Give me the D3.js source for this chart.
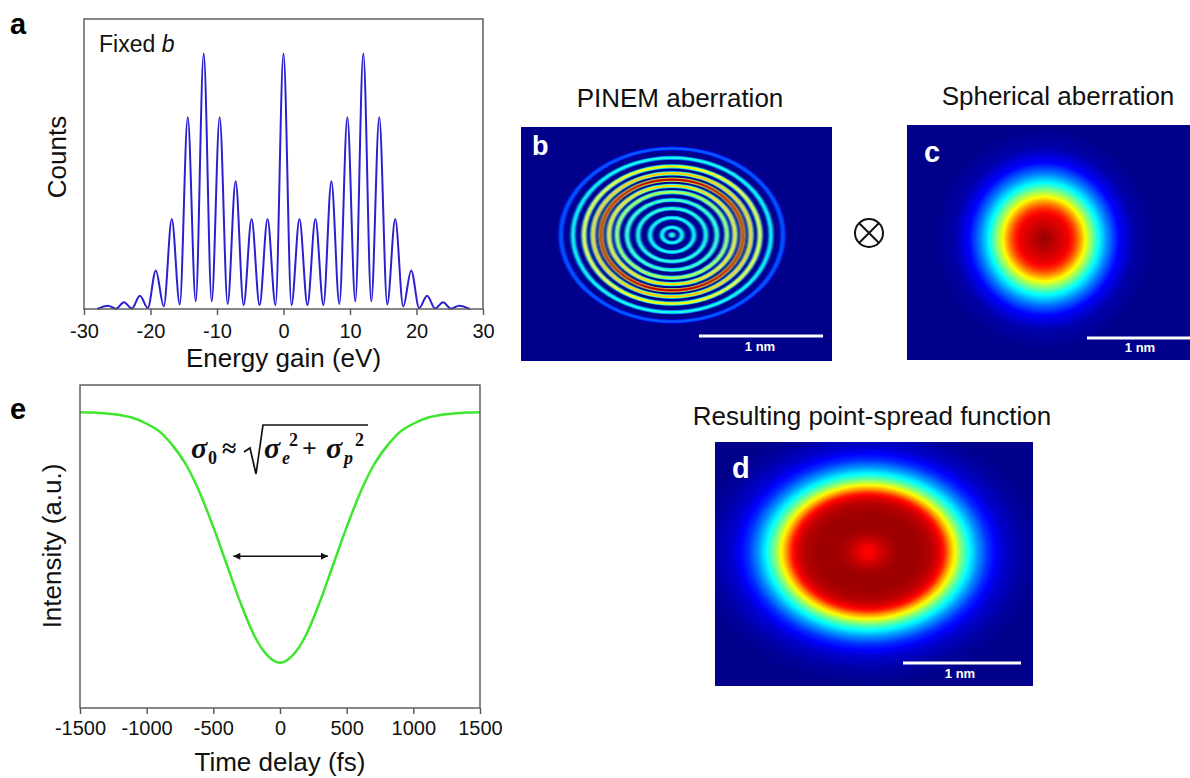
<!DOCTYPE html>
<html><head><meta charset="utf-8">
<script src="https://cdn.jsdelivr.net/npm/d3@7"></script>
<style>
body{margin:0;background:#fff}
svg{display:block}
</style>
</head><body>
<svg id="fig" width="1190" height="778"></svg>
<script>
// ---------- DATA ----------
// Panel a: PINEM spectrum (peak maxima and minima)
const energyGain = [-28,-26.4,-25.2,-24,-22.8,-21.6,-20.4,-19.2,-18,-16.8,-15.6,-14.4,-13.2,-12,-10.8,-9.6,-8.4,-7.2,-6,-4.8,-3.6,-2.4,-1.2,0,
                    1.2,2.4,3.6,4.8,6,7.2,8.4,9.6,10.8,12,13.2,14.4,15.6,16.8,18,19.2,20.4,21.6,22.8,24,25.2,26.4,28];
const counts = [0,0.013,0.001,0.026,0.002,0.052,0.004,0.151,0.01,0.352,0.018,0.75,0.03,1.0,0.03,0.75,0.02,0.5,0.015,0.352,0.015,0.352,0.015,1.0,
                0.015,0.352,0.015,0.352,0.015,0.5,0.02,0.75,0.03,1.0,0.03,0.75,0.018,0.352,0.01,0.151,0.004,0.052,0.002,0.026,0.001,0.013,0];
const energyTicks = [-30,-20,-10,0,10,20,30];

// Panel e: time trace
const timeDelay = [-1500,-1400,-1300,-1200,-1100,-1000,-900,-800,-700,-600,-500,-400,-300,-200,-100,0,
                   100,200,300,400,500,600,700,800,900,1000,1100,1200,1300,1400,1500];
const intensity = [0.916,0.915,0.912,0.907,0.898,0.88,0.855,0.81,0.75,0.665,0.56,0.445,0.33,0.23,0.165,0.14,
                   0.165,0.23,0.33,0.445,0.56,0.665,0.75,0.81,0.855,0.88,0.898,0.907,0.912,0.915,0.916];
const timeTicks = [-1500,-1000,-500,0,500,1000,1500];
const fwhmSpan = [-350, 360];
const fwhmLevel = 0.47;

// Panel b: PINEM rings (horizontal radius in px, jet level)
const ringRadius = [0, 10, 22, 34, 45, 55, 63, 71, 79, 88, 99, 111];
const ringLevel  = [0.45, 0.4, 0.4, 0.42, 0.45, 0.55, 0.66, 0.95, 0.68, 0.62, 0.4, 0.22];

// Panel c: spherical aberration profile (radius px, jet level)
const sphRadius = [0, 8, 16, 24, 30, 36, 42, 48, 55, 64, 75, 90, 110];
const sphLevel  = [0.98, 0.95, 0.92, 0.89, 0.83, 0.73, 0.61, 0.5, 0.375, 0.25, 0.125, 0.04, 0.01];

// Panel d: resulting PSF profile (radius px, jet level)
const psfRadius = [0, 8, 18, 30, 50, 62, 70, 76, 82, 88, 95, 102, 110, 120, 135, 155, 175];
const psfLevel  = [0.87, 0.89, 0.94, 0.97, 0.97, 0.95, 0.91, 0.85, 0.72, 0.6, 0.47, 0.37, 0.27, 0.17, 0.08, 0.03, 0.01];

// ---------- HELPERS ----------
const SANS = "'Liberation Sans', Arial, sans-serif";
const SERIF = "'Liberation Serif', 'Times New Roman', serif";
const svg = d3.select("#fig").style("font-family", SANS);
const defs = svg.append("defs");
const jet = d3.scaleLinear()
  .domain([0, 0.125, 0.375, 0.625, 0.875, 1])
  .range(["#000080", "#0000ff", "#00ffff", "#ffff00", "#ff0000", "#800000"])
  .clamp(true);
const bg = jet(0.01);
const frameColor = "#555";

function frame(x0, y0, x1, y1) {
  svg.append("rect").attr("x", x0).attr("y", y0).attr("width", x1 - x0).attr("height", y1 - y0)
    .attr("fill", "none").attr("stroke", frameColor).attr("stroke-width", 1.4);
}
function label(x, y, s, size, opts = {}) {
  const t = svg.append("text").attr("x", x).attr("y", y).style("font-size", size + "px")
    .style("font-family", SANS).attr("fill", opts.fill || "#111");
  if (opts.anchor) t.attr("text-anchor", opts.anchor);
  if (opts.bold) t.style("font-weight", "bold");
  if (opts.transform) t.attr("transform", opts.transform);
  t.text(s);
  return t;
}

// ---------- PANEL a ----------
const ax = d3.scaleLinear().domain([-30, 30]).range([84, 483]);
const ay = d3.scaleLinear().domain([0, 1.135]).range([309, 19]);
svg.append("path")
  .datum(energyGain.map((e, i) => [e, counts[i]]))
  .attr("fill", "none").attr("stroke", "#2a20d0").attr("stroke-width", 2)
  .attr("d", d3.line().x(d => ax(d[0])).y(d => ay(d[1])).curve(d3.curveMonotoneX));
frame(84, 19, 483, 309);
const axA = svg.append("g").attr("transform", "translate(0,309)")
  .call(d3.axisBottom(ax).tickValues(energyTicks).tickFormat(d => String(d)).tickSize(6).tickSizeOuter(0).tickPadding(9));
axA.select(".domain").remove();
axA.selectAll("line").attr("stroke", frameColor).attr("stroke-width", 1.4);
axA.selectAll("text").style("font-size", "20px").style("font-family", SANS).attr("fill", "#111");
label(283.5, 367, "Energy gain (eV)", 26, { anchor: "middle" });
label(0, 0, "Counts", 26, { anchor: "middle", transform: "translate(66,157) rotate(-90)" });
label(99, 52, "Fixed ", 23).append("tspan").style("font-style", "italic").text("b");
label(10, 34, "a", 29, { bold: true, fill: "#000" });

// ---------- PANEL e ----------
const ex = d3.scaleLinear().domain([-1500, 1500]).range([80, 480]);
const ey = d3.scaleLinear().domain([0, 1]).range([708, 385]);
svg.append("path")
  .datum(timeDelay.map((t, i) => [t, intensity[i]]))
  .attr("fill", "none").attr("stroke", "#3ee62e").attr("stroke-width", 2.5)
  .attr("d", d3.line().x(d => ex(d[0])).y(d => ey(d[1])).curve(d3.curveMonotoneX));
frame(80, 385, 480, 708);
const axE = svg.append("g").attr("transform", "translate(0,708)")
  .call(d3.axisBottom(ex).tickValues(timeTicks).tickFormat(d => String(d)).tickSize(6).tickSizeOuter(0).tickPadding(7));
axE.select(".domain").remove();
axE.selectAll("line").attr("stroke", frameColor).attr("stroke-width", 1.4);
axE.selectAll("text").style("font-size", "20px").style("font-family", SANS).attr("fill", "#111");
label(280, 771, "Time delay (fs)", 26, { anchor: "middle" });
label(0, 0, "Intensity (a.u.)", 26, { anchor: "middle", transform: "translate(61,546) rotate(-90)" });
label(10, 419, "e", 29, { bold: true, fill: "#000" });

// FWHM arrow
defs.append("marker").attr("id", "ah").attr("viewBox", "0 0 10 10").attr("refX", 10).attr("refY", 5)
  .attr("markerWidth", 9).attr("markerHeight", 7).attr("markerUnits", "userSpaceOnUse").attr("orient", "auto-start-reverse")
  .append("path").attr("d", "M0,0 L10,5 L0,10 z").attr("fill", "#111");
svg.append("line").attr("x1", ex(fwhmSpan[0])).attr("x2", ex(fwhmSpan[1]))
  .attr("y1", ey(fwhmLevel)).attr("y2", ey(fwhmLevel))
  .attr("stroke", "#111").attr("stroke-width", 1.4)
  .attr("marker-start", "url(#ah)").attr("marker-end", "url(#ah)");

// Equation  σ0 ≈ sqrt(σe^2 + σp^2)
const eq = svg.append("g").attr("fill", "#111");
function eqText(x, y, s, size, italic) {
  eq.append("text").attr("x", x).attr("y", y)
    .style("font-size", size + "px").style("font-family", SERIF).style("font-weight", "bold")
    .style("font-style", italic ? "italic" : "normal").text(s);
}
eqText(191, 458, "σ", 30, true);
eqText(208, 464, "0", 18, false);
eqText(222, 457, "≈", 26, false);
eq.append("path").attr("d", "M244,452 L250,448 L256,474 L263,425 L368,425")
  .attr("fill", "none").attr("stroke", "#111").attr("stroke-width", 1.7);
eqText(264, 458, "σ", 30, true);
eqText(282, 464, "e", 18, true);
eqText(289, 446, "2", 18, false);
eqText(302, 457, "+", 26, false);
eqText(326, 458, "σ", 30, true);
eqText(344, 464, "p", 18, true);
eqText(355, 446, "2", 18, false);

// ---------- IMAGE PANELS ----------
function imagePanel(id, x, y, w, h) {
  defs.append("clipPath").attr("id", id).append("rect").attr("x", x).attr("y", y).attr("width", w).attr("height", h);
  const g = svg.append("g").attr("clip-path", `url(#${id})`);
  g.append("rect").attr("x", x).attr("y", y).attr("width", w).attr("height", h).attr("fill", bg);
  return g;
}
function radialBlob(g, id, cx, cy, radii, levels, ratio) {
  const R = radii[radii.length - 1];
  const prof = d3.scaleLinear().domain(radii).range(levels).clamp(true);
  const grad = defs.append("radialGradient").attr("id", id);
  d3.range(0, R + 0.01, R / 120).forEach(r => {
    grad.append("stop").attr("offset", r / R).attr("stop-color", jet(prof(r)));
  });
  g.append("g").attr("transform", `translate(${cx},${cy}) scale(1,${ratio})`)
    .append("circle").attr("r", R).attr("fill", `url(#${id})`);
}
function scaleBar(x0, x1, y, tx, ty) {
  svg.append("rect").attr("x", x0).attr("y", y - 1.5).attr("width", x1 - x0).attr("height", 3).attr("fill", "#fff");
  label(tx, ty, "1 nm", 13, { anchor: "middle", bold: true, fill: "#fff" });
}

// Panel b: PINEM rings
const gb = imagePanel("clipB", 521, 127, 311, 234);
defs.append("filter").attr("id", "soft").attr("x", "-20%").attr("y", "-20%").attr("width", "140%").attr("height", "140%")
  .append("feGaussianBlur").attr("stdDeviation", 0.85);
const rings = gb.append("g").attr("transform", "translate(672,235) scale(1,0.78)").attr("filter", "url(#soft)");
ringRadius.forEach((r, i) => {
  const L = ringLevel[i];
  if (r === 0) {
    rings.append("circle").attr("r", 4).attr("fill", jet(L * 0.6));
    rings.append("circle").attr("r", 2.2).attr("fill", jet(L));
    return;
  }
  [[5.4, 0.55], [3.8, 0.82], [2.3, 1]].forEach(([w, f]) => {
    rings.append("circle").attr("r", r).attr("fill", "none").attr("stroke", jet(L * f)).attr("stroke-width", w);
  });
});
label(680, 107, "PINEM aberration", 26, { anchor: "middle" });
label(532, 155, "b", 27, { bold: true, fill: "#fff" });
scaleBar(699, 823, 336, 760, 351);

// ⊗ symbol
svg.append("circle").attr("cx", 869).attr("cy", 233).attr("r", 14).attr("fill", "none").attr("stroke", "#111").attr("stroke-width", 2);
svg.append("path").attr("d", "M859,223 L879,243 M879,223 L859,243").attr("stroke", "#111").attr("stroke-width", 2);

// Panel c: spherical aberration
const gc = imagePanel("clipC", 907, 125, 300, 235);
radialBlob(gc, "gradC", 1044, 239, sphRadius, sphLevel, 1.02);
label(1058, 105, "Spherical aberration", 26, { anchor: "middle" });
label(924, 162, "c", 29, { bold: true, fill: "#fff" });
scaleBar(1087, 1195, 338, 1140, 352);

// Panel d: resulting PSF
const gd = imagePanel("clipD", 715, 442, 318, 244);
radialBlob(gd, "gradD", 868, 552, psfRadius, psfLevel, 0.77);
label(872, 425, "Resulting point-spread function", 26, { anchor: "middle" });
label(732, 478, "d", 29, { bold: true, fill: "#fff" });
scaleBar(903, 1021, 663, 960, 678);
</script>
</body></html>
